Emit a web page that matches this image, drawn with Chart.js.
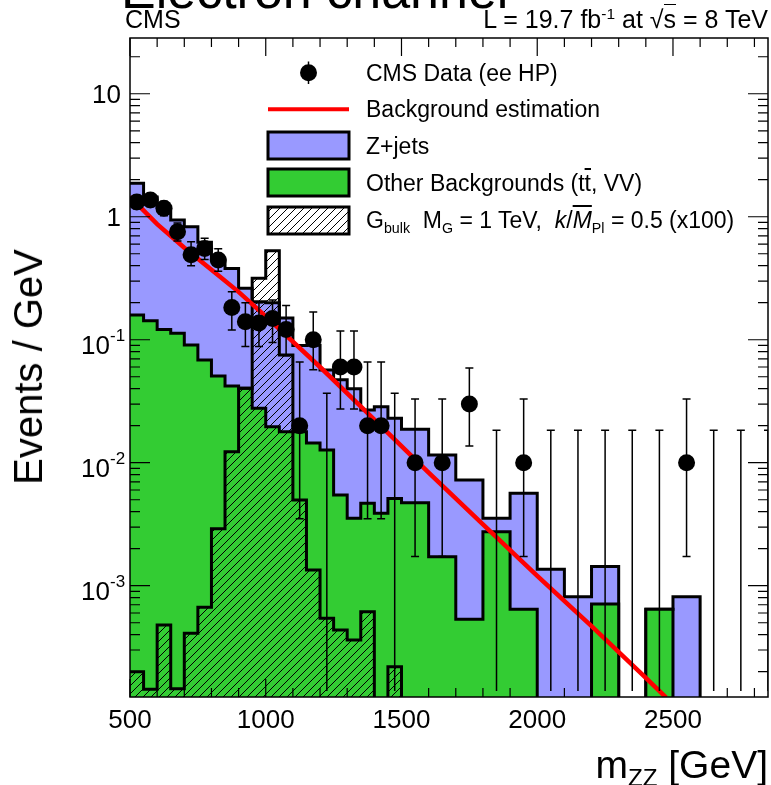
<!DOCTYPE html>
<html lang="en">
<head>
<meta charset="utf-8">
<title>Electron channel - m_ZZ</title>
<script src="https://cdn.jsdelivr.net/npm/chart.js@4.4.1/dist/chart.umd.min.js"></script>
<style>
  html, body { margin: 0; padding: 0; background: #fff; }
  #plot { position: relative; width: 771px; height: 785px; overflow: hidden;
          font-family: "Liberation Sans", Arial, Helvetica, sans-serif; color: #000; }
  #plot canvas { position: absolute; left: 0; top: 0; }
  .lbl { position: absolute; white-space: nowrap; line-height: 1; }
  .sub { font-size: 0.62em; vertical-align: -0.32em; line-height: 0; }
  .sup { font-size: 0.62em; vertical-align: 0.55em; line-height: 0; }
  .bar { text-decoration: overline; }
</style>
</head>
<body>
<div id="plot">
  <canvas id="mzz" width="771" height="785"></canvas>

  <div class="lbl" style="left:121px; top:-36px; font-size:52px;">Electron channel</div>
  <div class="lbl" style="left:125px; top:7px; font-size:25px;">CMS</div>
  <div class="lbl" style="right:3px; top:7px; font-size:25px;">L = 19.7 fb<span class="sup">-1</span> at &#8730;<span style="border-top:1.5px solid #000;">s</span> = 8 TeV</div>

  <div class="lbl" style="left:28px; top:367px; font-size:40px; transform: translate(-50%, -50%) rotate(-90deg);">Events / GeV</div>
  <div class="lbl" style="right:3px; top:745px; font-size:39px;">m<span class="sub">ZZ</span> [GeV]</div>

  <!-- legend texts (symbols are drawn on the canvas) -->
  <div class="lbl" style="left:366px; top:62px; font-size:23px;">CMS Data (ee HP)</div>
  <div class="lbl" style="left:366px; top:98px; font-size:23px;">Background estimation</div>
  <div class="lbl" style="left:366px; top:135px; font-size:23px;">Z+jets</div>
  <div class="lbl" style="left:366px; top:172px; font-size:23px;">Other Backgrounds (t<span class="bar">t</span>, VV)</div>
  <div class="lbl" style="left:366px; top:209px; font-size:23px;">G<span class="sub">bulk</span>&nbsp; M<span class="sub">G</span> = 1 TeV, &nbsp;<i>k</i>/<i class="bar">M</i><span class="sub">Pl</span> = 0.5 (x100)</div>
</div>

<script>
// --- Data (Events / GeV) ---

// histogram bin edges: 50 GeV up to 1500, 100 GeV above
const binEdges = [500, 550, 600, 650, 700, 750, 800, 850, 900, 950, 1000, 1050, 1100, 1150, 1200,
                  1250, 1300, 1350, 1400, 1450, 1500, 1600, 1700, 1800, 1900, 2000, 2100, 2200,
                  2300, 2400, 2500, 2600];

// Other backgrounds (ttbar, VV)
const otherBkg = [0.159, 0.143, 0.121, 0.113, 0.0906, 0.0684, 0.0507, 0.042, 0.0403, 0.0277,
                  0.0196, 0.0179, 0.0179, 0.0145, 0.0127, 0.00546, 0.00353, 0.00468, 0.00388, 0.00513,
                  0.00473, 0.00172, 0.000533, 0.00275, 0.000643, 0, 0, 0.00071, 0, 0.000643, 0];

// Z+jets, stacked on top of the other backgrounds
const zJets = [1.711, 1.307, 1.079, 0.827, 0.739, 0.552, 0.394, 0.338, 0.222, 0.176,
               0.180, 0.132, 0.072, 0.0755, 0.0441, 0.0419, 0.0365, 0.0221, 0.0246, 0.0179,
               0.0140, 0.00984, 0.0067, 0.00078, 0.005, 0.00136, 0.000814, 0.00072, 0, 0, 0.000814];

// G_bulk signal, M_G = 1 TeV (x100)
const signalBulk = [0.0002, 0.000144, 0.00048, 0.000145, 0.00041, 0.000667, 0.0029, 0.0123, 0.0403, 0.316,
                    0.53, 0.075, 0.00497, 0.00134, 0.000543, 0.000436, 0.000362, 0.000615, 0, 0.000219,
                    0, 0, 0, 0, 0, 0, 0, 0, 0, 0, 0];

// background estimation (red curve)
const fitMass  = [500, 600, 700, 800, 900, 1000, 1200, 1400, 1600, 1800, 2000, 2200, 2400, 2475];
const fitValue = [1.45, 0.87, 0.56, 0.37, 0.245, 0.155, 0.060, 0.0224, 0.0083, 0.00316, 0.0012, 0.00047, 0.000178, 0.000123];

// data points with their error bar ends (0 = empty bin, bar runs to the axis)
const dataMass = [525, 575, 625, 675, 725, 775, 825, 875, 925, 975, 1025, 1075, 1125, 1175, 1225,
                  1275, 1325, 1375, 1425, 1475, 1550, 1650, 1750, 1850, 1950, 2050, 2150, 2250,
                  2350, 2450, 2550, 2650, 2750, 2850];
const dataValue = [1.32, 1.37, 1.17, 0.755, 0.49, 0.553, 0.445, 0.183, 0.14, 0.137, 0.149, 0.121, 0.02, 0.10, 0,
                   0.06, 0.06, 0.02, 0.02, 0, 0.01, 0.01, 0.03, 0, 0.01, 0, 0, 0,
                   0, 0, 0.01, 0, 0, 0];
const dataErrLow = [1.16, 1.21, 1.02, 0.635, 0.40, 0.45, 0.36, 0.12, 0.088, 0.088, 0.095, 0.074, 0.0035, 0.057, 0,
                    0.0274, 0.0274, 0.0035, 0.0035, 0, 0.00173, 0.00173, 0.0137, 0, 0.00173, 0, 0, 0,
                    0, 0, 0.00173, 0, 0, 0];
const dataErrHigh = [1.48, 1.54, 1.33, 0.89, 0.626, 0.67, 0.55, 0.246, 0.2, 0.2, 0.21, 0.19, 0.066, 0.168, 0.0368,
                     0.118, 0.118, 0.066, 0.066, 0.0368, 0.033, 0.033, 0.059, 0.0184, 0.033, 0.0184, 0.0184, 0.0184,
                     0.0184, 0.0184, 0.033, 0.0184, 0.0184, 0.0184];

// axis ranges and tick labels
const X_MIN = 500, X_MAX = 2850;
const Y_MIN = 1.245e-4, Y_MAX = 28.4;
const xTickLabels = [500, 1000, 1500, 2000, 2500];
const yLabelValues = [10, 1, 0.1, 0.01, 0.001];
const yLabelBase   = ['10', '1', '10', '10', '10'];
const yLabelExp    = ['', '', '-1', '-2', '-3'];

// --- Style ---
const COLOR_ZJETS = '#9999ff';
const COLOR_OTHER = '#33cc33';
const COLOR_FIT = '#ff0000';
const FONT = '"Liberation Sans", Arial, Helvetica, sans-serif';
const EMPTY = 1e-7; // empty bins are pushed below the visible range

// step points for a histogram: each left edge carries its bin value
function histPoints(edges, values) {
    const pts = values.map((v, i) => ({ x: edges[i], y: v > 0 ? v : EMPTY }));
    pts.push({ x: edges[edges.length - 1], y: EMPTY });
    return pts;
}

// "/" hatching like ROOT fill style 3004
function makeHatch(ctx) {
    const size = 8;
    const c = document.createElement('canvas');
    c.width = size;
    c.height = size;
    const g = c.getContext('2d');
    g.strokeStyle = '#000';
    g.lineWidth = 1;
    g.beginPath();
    g.moveTo(0, size); g.lineTo(size, 0);
    g.moveTo(-1, 1); g.lineTo(1, -1);
    g.moveTo(size - 1, size + 1); g.lineTo(size + 1, size - 1);
    g.stroke();
    return ctx.createPattern(c, 'repeat');
}

// error bars go under the markers
const errorBarPlugin = {
    id: 'errorBars',
    beforeDatasetDraw(chart, args) {
        if (chart.data.datasets[args.index].label !== 'CMS Data') return;
        const { ctx, chartArea: a, scales: { x, y } } = chart;
        ctx.save();
        ctx.beginPath();
        ctx.rect(a.left, a.top, a.width, a.height);
        ctx.clip();
        ctx.strokeStyle = '#000';
        ctx.lineWidth = 1.5;
        dataMass.forEach((m, i) => {
            const px = x.getPixelForValue(m);
            const top = y.getPixelForValue(dataErrHigh[i]);
            const bot = dataErrLow[i] > 0 ? y.getPixelForValue(dataErrLow[i]) : a.bottom - 6;
            ctx.beginPath();
            ctx.moveTo(px, top); ctx.lineTo(px, bot);
            ctx.moveTo(px - 4, top); ctx.lineTo(px + 4, top);
            if (dataErrLow[i] > 0) { ctx.moveTo(px - 4, bot); ctx.lineTo(px + 4, bot); }
            ctx.stroke();
        });
        ctx.restore();
    }
};

// frame, inside ticks on all four sides, tick labels
const rootAxesPlugin = {
    id: 'rootAxes',
    afterDatasetsDraw(chart) {
        const { ctx, chartArea: a, scales: { x, y } } = chart;
        ctx.save();
        ctx.strokeStyle = '#000';
        ctx.lineWidth = 1.2;
        ctx.beginPath();
        for (let m = X_MIN; m <= X_MAX; m += 100) {
            const px = x.getPixelForValue(m);
            const len = m % 500 === 0 ? 18 : 9;
            ctx.moveTo(px, a.bottom); ctx.lineTo(px, a.bottom - len);
            ctx.moveTo(px, a.top); ctx.lineTo(px, a.top + len);
        }
        for (let e = -4; e <= 1; e++) {
            for (let k = 1; k <= 9; k++) {
                const v = k * Math.pow(10, e);
                if (v < Y_MIN || v > Y_MAX) continue;
                const py = y.getPixelForValue(v);
                const len = k === 1 ? 20 : 10;
                ctx.moveTo(a.left, py); ctx.lineTo(a.left + len, py);
                ctx.moveTo(a.right, py); ctx.lineTo(a.right - len, py);
            }
        }
        ctx.stroke();

        ctx.lineWidth = 1.5;
        ctx.strokeRect(a.left, a.top, a.width, a.height);

        ctx.fillStyle = '#000';
        ctx.font = '26px ' + FONT;
        ctx.textAlign = 'center';
        ctx.textBaseline = 'alphabetic';
        xTickLabels.forEach(v => ctx.fillText(String(v), x.getPixelForValue(v), a.bottom + 31));

        yLabelValues.forEach((v, i) => {
            const py = y.getPixelForValue(v);
            if (!yLabelExp[i]) {
                ctx.font = '26px ' + FONT;
                ctx.textAlign = 'right';
                ctx.fillText(yLabelBase[i], a.left - 9, py + 9.5);
            } else {
                ctx.font = '26px ' + FONT;
                ctx.textAlign = 'right';
                ctx.fillText(yLabelBase[i], a.left - 20, py + 14);
                ctx.font = '17px ' + FONT;
                ctx.textAlign = 'left';
                ctx.fillText(yLabelExp[i], a.left - 20, py + 1);
            }
        });
        ctx.restore();
    }
};

// legend symbols, positioned next to the html labels
const legendSymbolPlugin = {
    id: 'legendSymbols',
    afterDraw(chart) {
        const ctx = chart.ctx;
        ctx.save();
        ctx.strokeStyle = '#000';
        ctx.lineWidth = 1.5;
        ctx.beginPath();
        ctx.moveTo(308.5, 61.5); ctx.lineTo(308.5, 84);
        ctx.stroke();
        ctx.fillStyle = '#000';
        ctx.beginPath();
        ctx.arc(308.5, 72.7, 8.5, 0, 2 * Math.PI);
        ctx.fill();

        ctx.strokeStyle = COLOR_FIT;
        ctx.lineWidth = 4;
        ctx.beginPath();
        ctx.moveTo(268, 109.3); ctx.lineTo(349, 109.3);
        ctx.stroke();

        const boxes = [[132, COLOR_ZJETS], [169, COLOR_OTHER], [207, '#fff'], [207, hatch]];
        boxes.forEach(([top, fill]) => {
            ctx.fillStyle = fill;
            ctx.fillRect(268, top, 81, 27);
        });
        ctx.strokeStyle = '#000';
        ctx.lineWidth = 3;
        [132, 169, 207].forEach(top => ctx.strokeRect(268, top, 81, 27));
        ctx.restore();
    }
};

const canvas = document.getElementById('mzz');
const ctx = canvas.getContext('2d');
const hatch = makeHatch(ctx);
const totalBkg = otherBkg.map((v, i) => v + zJets[i]);

const histStyle = {
    type: 'line',
    stepped: 'before',
    pointRadius: 0,
    borderColor: '#000',
    borderWidth: 3,
    borderJoinStyle: 'miter',
    fill: 'start',
    clip: 0
};

new Chart(ctx, {
    type: 'line',
    data: {
        datasets: [
            Object.assign({}, histStyle, { label: 'Z+jets', data: histPoints(binEdges, totalBkg), backgroundColor: COLOR_ZJETS, order: 5 }),
            Object.assign({}, histStyle, { label: 'Other Backgrounds', data: histPoints(binEdges, otherBkg), backgroundColor: COLOR_OTHER, order: 4 }),
            Object.assign({}, histStyle, { label: 'G_bulk', data: histPoints(binEdges, signalBulk), backgroundColor: hatch, order: 3 }),
            {
                type: 'line',
                label: 'Background estimation',
                data: fitMass.map((m, i) => ({ x: m, y: fitValue[i] })),
                borderColor: COLOR_FIT,
                borderWidth: 4.5,
                pointRadius: 0,
                fill: false,
                clip: 0,
                order: 2
            },
            {
                type: 'scatter',
                label: 'CMS Data',
                data: dataMass.map((m, i) => ({ x: m, y: dataValue[i] > 0 ? dataValue[i] : null })),
                showLine: false,
                pointRadius: 8.5,
                pointBackgroundColor: '#000',
                pointBorderColor: '#000',
                pointBorderWidth: 0,
                order: 1
            }
        ]
    },
    options: {
        responsive: false,
        animation: false,
        devicePixelRatio: 1,
        events: [],
        layout: { autoPadding: false, padding: { left: 130, top: 38, right: 3, bottom: 88 } },
        plugins: { legend: { display: false }, tooltip: { enabled: false } },
        scales: {
            x: { type: 'linear', min: X_MIN, max: X_MAX, display: false },
            y: { type: 'logarithmic', min: Y_MIN, max: Y_MAX, display: false }
        }
    },
    plugins: [errorBarPlugin, rootAxesPlugin, legendSymbolPlugin]
});
</script>
</body>
</html>
